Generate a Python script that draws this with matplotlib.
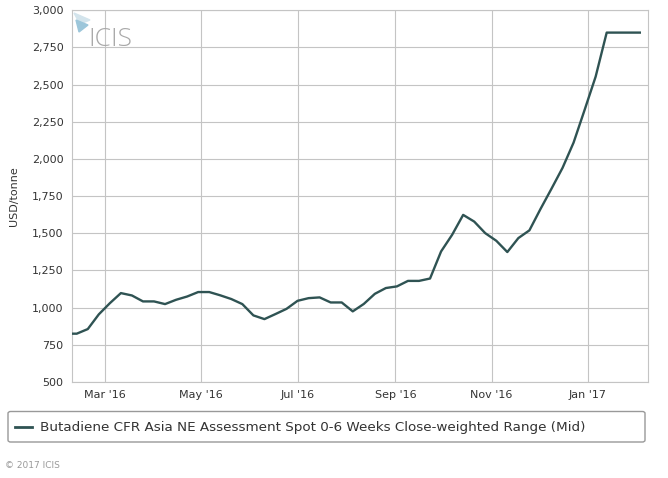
import pandas as pd
import matplotlib.pyplot as plt
import matplotlib.dates as mdates
from matplotlib.patches import FancyBboxPatch, Polygon
from matplotlib.ticker import FuncFormatter

# weekly assessments (fridays), USD/tonne
dates = pd.date_range('2016-02-05', periods=53, freq='7D')
prices = [825, 825, 856, 955, 1030, 1098, 1082, 1042, 1042, 1024, 1053,
          1075, 1105, 1105, 1083, 1058, 1024, 948, 923, 957, 992, 1046,
          1064, 1069, 1035, 1035, 975, 1025, 1093, 1132, 1143, 1180, 1180,
          1196, 1378, 1490, 1624, 1579, 1501, 1450, 1374, 1468, 1520, 1663,
          1800, 1940, 2110, 2330, 2554, 2850, 2850, 2850, 2850]
tick_dates = ['2016-03-01', '2016-05-01', '2016-07-01', '2016-09-01', '2016-11-01', '2017-01-01']
yticks = list(range(500, 3001, 250))
series_name = 'Butadiene CFR Asia NE Assessment Spot 0-6 Weeks Close-weighted Range (Mid)'

line_col = '#2f5353'
grid_col = '#c4c4c4'
txt_col = '#333333'

fig = plt.figure(figsize=(6.68, 4.78), dpi=100)
ax = fig.add_axes([72/668, 1-382/478, (647.7-72)/668, (382-10.3)/478])

ax.plot(dates, prices, color=line_col, lw=1.7, solid_joinstyle='round', zorder=3)

ax.set_xlim(pd.Timestamp('2016-02-09'), pd.Timestamp('2017-02-08'))
ax.set_ylim(500, 3000)
ax.set_yticks(yticks)
ax.yaxis.set_major_formatter(FuncFormatter(lambda v, p: '{:,.0f}'.format(v)))
ax.set_xticks([pd.Timestamp(d) for d in tick_dates])
ax.xaxis.set_major_formatter(mdates.DateFormatter("%b '%y"))
ax.grid(True, color=grid_col, lw=0.8)
ax.tick_params(length=0, labelsize=8, colors=txt_col, pad=6)
for s in ax.spines.values():
    s.set_color(grid_col)
    s.set_linewidth(0.8)
ax.set_ylabel('USD/tonne', fontsize=8, color=txt_col, labelpad=9)

# ICIS watermark
fig.text(88/668, 1-46/478, 'ICIS', fontsize=19, color='#a8a8a8', family='Open Sans',
         fontweight='light')
fig.patches.append(Polygon([[74/668, 1-13/478], [90/668, 1-20/478], [80/668, 1-24/478]],
                           closed=True, transform=fig.transFigure, color='#d3e4ec', zorder=5))
fig.patches.append(Polygon([[76/668, 1-20/478], [88/668, 1-25/478], [79/668, 1-32/478]],
                           closed=True, transform=fig.transFigure, color='#9cc6da', zorder=5))

# legend box
fig.patches.append(FancyBboxPatch((8/668, 1-442/478), 637/668, 30.5/478,
                                  boxstyle='round,pad=0,rounding_size=0.004',
                                  transform=fig.transFigure, fc='white', ec='#999999', lw=1))
fig.lines.append(plt.Line2D([15/668, 32/668], [1-427/478, 1-427/478], color=line_col, lw=2,
                            transform=fig.transFigure))
fig.text(40/668, 1-427/478, series_name, fontsize=9.7, color=txt_col, va='center')

fig.text(5/668, 1-465/478, '\u00a9 2017 ICIS', fontsize=6.5, color='#999999', va='center')

plt.savefig('out.png', dpi=100)
